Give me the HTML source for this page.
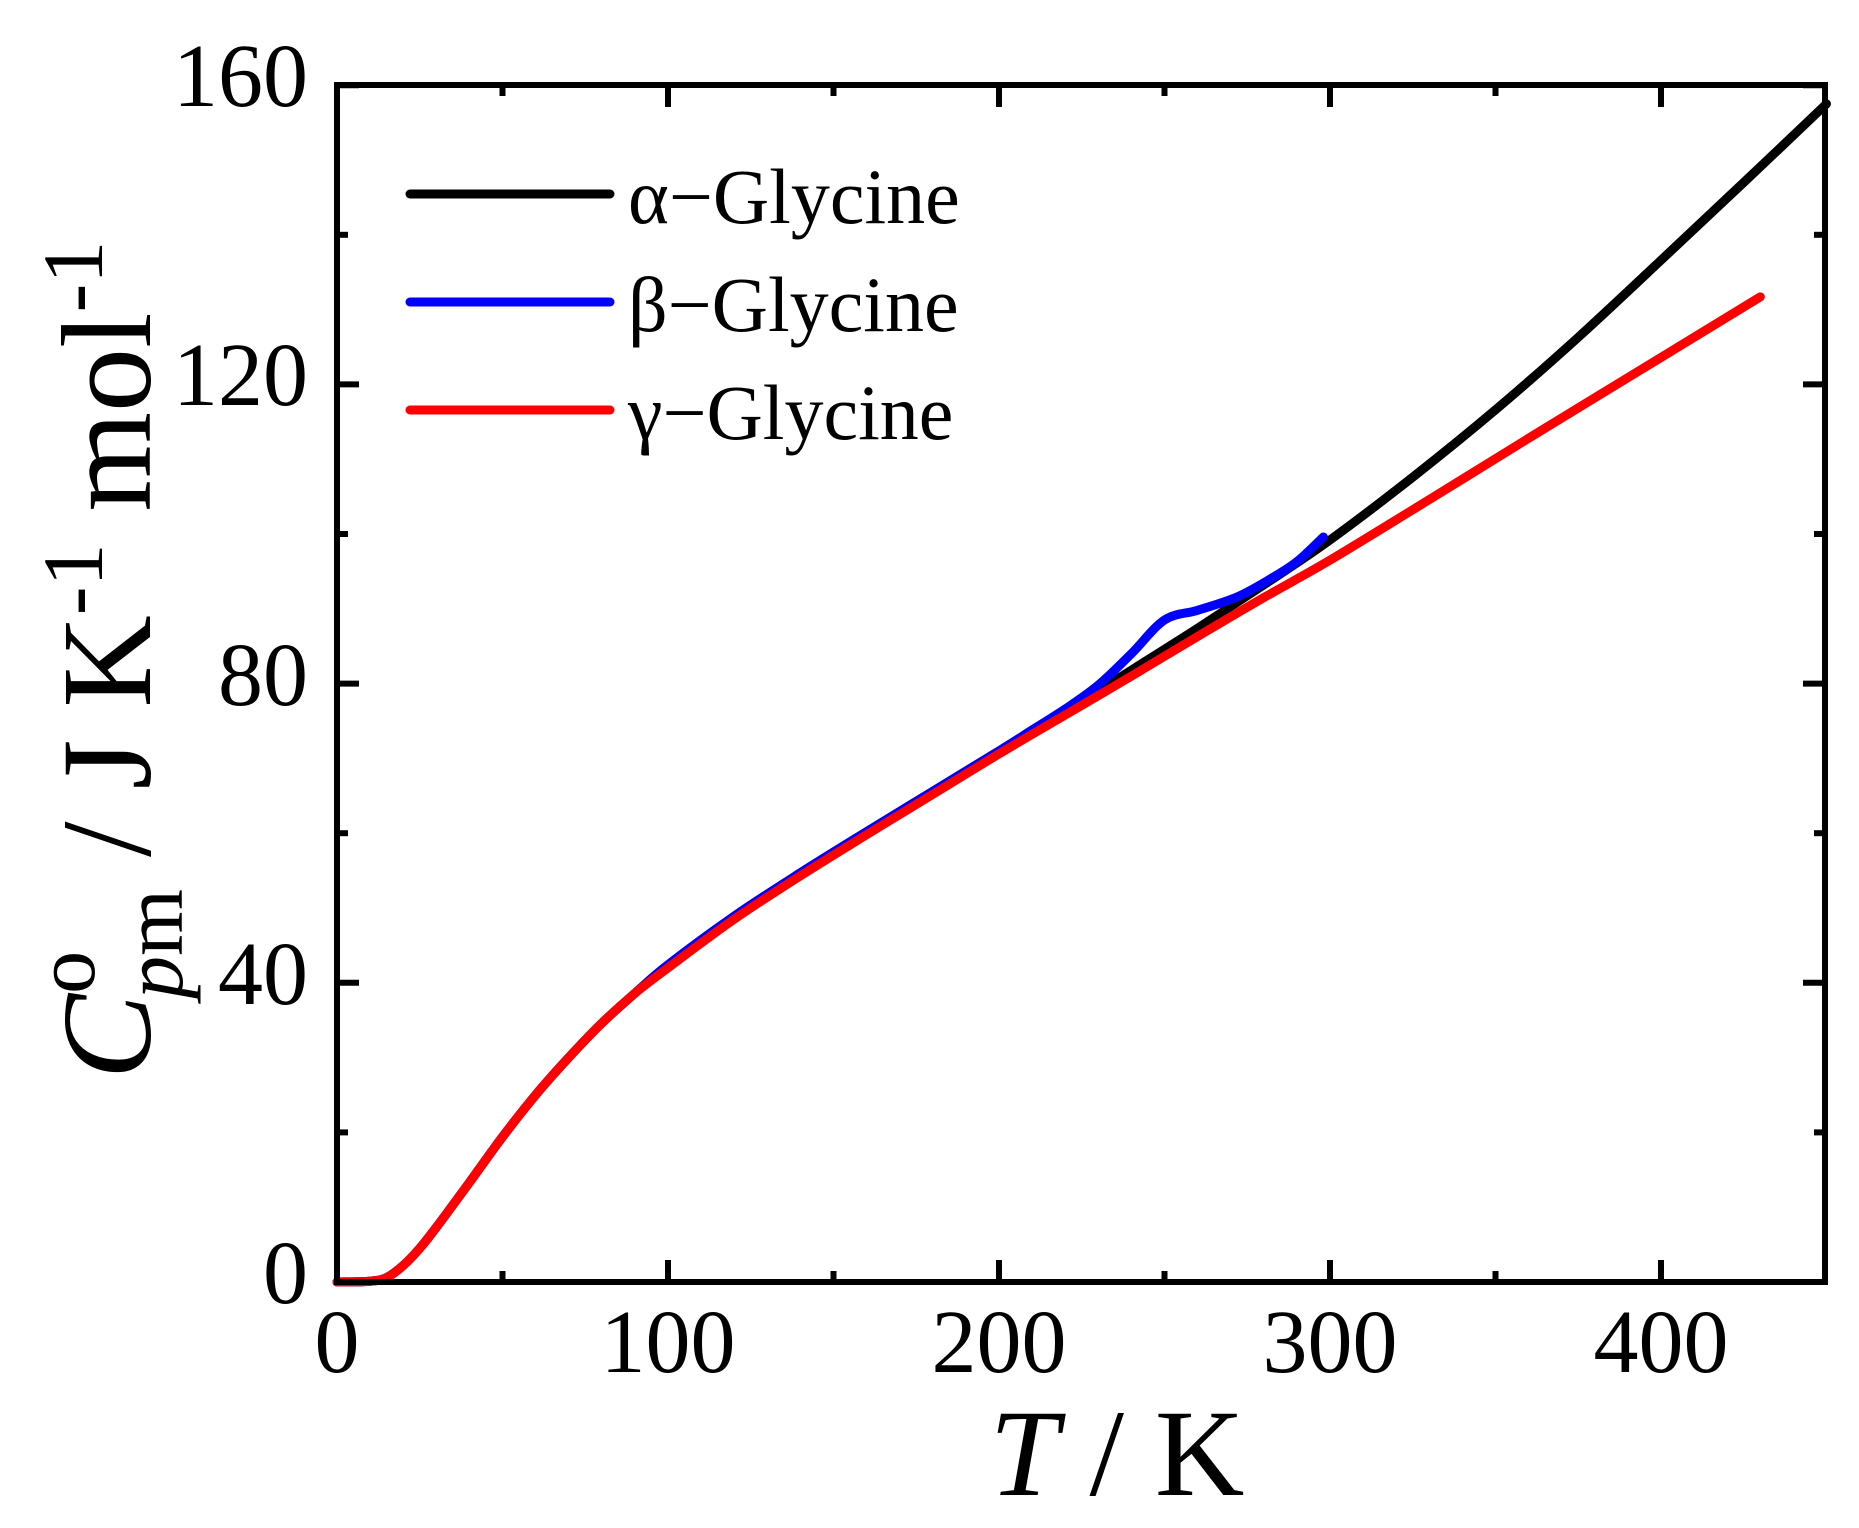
<!DOCTYPE html>
<html><head><meta charset="utf-8"><style>
html,body{margin:0;padding:0;background:#fff;}
svg{display:block;font-family:"Liberation Serif",serif;}
</style></head><body>
<svg id="s" width="1859" height="1528" viewBox="0 0 1859 1528" xmlns="http://www.w3.org/2000/svg">
<rect width="1859" height="1528" fill="#fff"/>
<g id="ticks" stroke="#000" stroke-width="6"></g>
<g id="curves" fill="none" stroke-width="9" stroke-linejoin="round" stroke-linecap="round"></g>
<rect x="337" y="85" width="1488" height="1197" fill="none" stroke="#000" stroke-width="6"/>
<g font-size="90" text-anchor="end">
<text x="308" y="1303">0</text>
<text x="308" y="1004">40</text>
<text x="308" y="705">80</text>
<text x="308" y="405">120</text>
<text x="308" y="106">160</text>
</g>
<g font-size="90" text-anchor="middle">
<text x="337" y="1372">0</text>
<text x="668" y="1372">100</text>
<text x="999" y="1372">200</text>
<text x="1330" y="1372">300</text>
<text x="1661" y="1372">400</text>
</g>
<text x="1117" y="1495" font-size="124" text-anchor="middle"><tspan font-style="italic">T</tspan> / K</text>
<text transform="translate(150,660) rotate(-90)" font-size="128" text-anchor="middle"><tspan font-style="italic">C</tspan><tspan font-size="86" dy="-56">o</tspan><tspan font-size="86" dx="-48" dy="88"><tspan font-style="italic">p</tspan>m</tspan><tspan dy="-32"> / J K</tspan><tspan font-size="86" dy="-48">-1</tspan><tspan dy="48"> mol</tspan><tspan font-size="86" dy="-48">-1</tspan></text>
<g stroke-width="9" stroke-linecap="round">
<line x1="410" y1="194" x2="610" y2="194" stroke="#000"/>
<line x1="410" y1="302" x2="610" y2="302" stroke="#0000ff"/>
<line x1="410" y1="410" x2="610" y2="410" stroke="#ff0000"/>
</g>
<g font-size="78">
<text x="628" y="223">α−Glycine</text>
<text x="628" y="331">β−Glycine</text>
<text x="628" y="439">γ−Glycine</text>
</g>
</svg>
<script>
var X=function(t){return 337+t*3.31}, Y=function(c){return 1282-c*7.48};
var tk=document.getElementById('ticks'), h='';
for(var v=0;v<=160;v+=20){var y=Y(v),L=(v%40==0)?22:11;
h+='<line x1="337" y1="'+y+'" x2="'+(337+L)+'" y2="'+y+'"/><line x1="1825" y1="'+y+'" x2="'+(1825-L)+'" y2="'+y+'"/>';}
for(var t=50;t<450;t+=50){var x=X(t),L=(t%100==0)?22:11;
h+='<line x1="'+x+'" y1="1282" x2="'+x+'" y2="'+(1282-L)+'"/><line x1="'+x+'" y1="85" x2="'+x+'" y2="'+(85+L)+'"/>';}
tk.innerHTML=h;
var low=[[0,0],[10,0.1],[15,0.6],[20,2.2],[25,4.5],[30,7.3],[40,13.3],[50,19.4],[60,25],[70,30],[80,34.6],[90,38.6],[100,42.4],[120,48.9],[140,54.7],[160,60.2],[180,65.6],[200,71]];
var black=low.concat([[220,76.3],[240,81.8],[260,87.4],[280,93.2],[300,99.2],[325,107.6],[350,116.6],[375,126.3],[400,136.6],[425,147],[450,157.5]]);
var blue=low.concat([[210,73.8],[220,76.6],[230,79.8],[240,84],[250,88.5],[260,89.8],[272,91.6],[282,94],[290,96.3],[298,99.6]]);
var red=low.map(function(p){return [p[0],p[0]>=100?p[1]-0.4:p[1]];}).concat([[220,75.8],[240,81],[260,86.3],[280,91.5],[300,96.5],[330,104.6],[360,112.8],[400,123.6],[430,131.7]]);
function path(d){var P=d.map(function(p){return [X(p[0]),Y(p[1])]});var s='M'+P[0][0]+','+P[0][1];
for(var i=0;i<P.length-1;i++){var p0=P[Math.max(i-1,0)],p1=P[i],p2=P[i+1],p3=P[Math.min(i+2,P.length-1)];
s+=' C'+(p1[0]+(p2[0]-p0[0])/6)+','+(p1[1]+(p2[1]-p0[1])/6)+' '+(p2[0]-(p3[0]-p1[0])/6)+','+(p2[1]-(p3[1]-p1[1])/6)+' '+p2[0]+','+p2[1];}return s;}
document.getElementById('curves').innerHTML='<path d="'+path(black)+'" stroke="#000"/><path d="'+path(blue)+'" stroke="#0000ff"/><path d="'+path(red)+'" stroke="#ff0000"/>';
</script>
</body></html>
